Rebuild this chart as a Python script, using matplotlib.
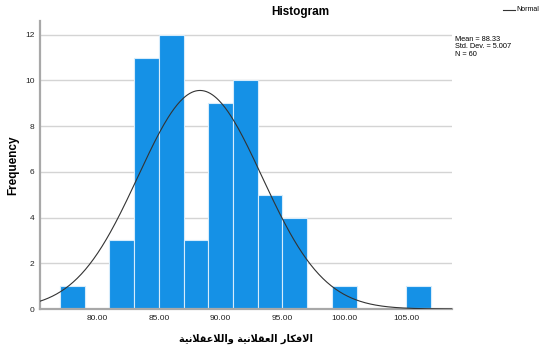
import numpy as np
import matplotlib
matplotlib.use('Agg')
import matplotlib.pyplot as plt

# histogram counts, 2-point bins
bin_edges = [77, 79, 81, 83, 85, 87, 89, 91, 93, 95, 97, 99, 101, 103, 105, 107]
counts = [1, 0, 3, 11, 12, 3, 9, 10, 5, 4, 0, 1, 0, 0, 1]
mean = 88.33
std = 5.007
n = 60

x_ticks = [80, 85, 90, 95, 100, 105]
y_ticks = [0, 2, 4, 6, 8, 10, 12]
x_label = 'الافكار العقلانية واللاعقلانية'

FAMILY = ['Liberation Sans', 'DejaVu Sans']
BAR = '#1591e6'

# contextual forms: isolated, final, initial, medial (None = does not join forward)
FORMS = {
    'ا': ('\uFE8D', '\uFE8E', None, None),
    'ل': ('\uFEDD', '\uFEDE', '\uFEDF', '\uFEE0'),
    'ف': ('\uFED1', '\uFED2', '\uFED3', '\uFED4'),
    'ك': ('\uFED9', '\uFEDA', '\uFEDB', '\uFEDC'),
    'ر': ('\uFEAD', '\uFEAE', None, None),
    'ع': ('\uFEC9', '\uFECA', '\uFECB', '\uFECC'),
    'ق': ('\uFED5', '\uFED6', '\uFED7', '\uFED8'),
    'ن': ('\uFEE5', '\uFEE6', '\uFEE7', '\uFEE8'),
    'ي': ('\uFEF1', '\uFEF2', '\uFEF3', '\uFEF4'),
    'ة': ('\uFE93', '\uFE94', None, None),
    'و': ('\uFEED', '\uFEEE', None, None),
    'لا': ('\uFEFB', '\uFEFC', None, None),
}


def shape_arabic(text):
    # matplotlib has no text shaping, so pick presentation forms by hand
    out_words = []
    for word in text.split(' '):
        letters = []
        i = 0
        while i < len(word):
            if word[i] == 'ل' and i + 1 < len(word) and word[i + 1] == 'ا':
                letters.append('لا')
                i += 2
            else:
                letters.append(word[i])
                i += 1
        shaped = []
        for k, ch in enumerate(letters):
            f = FORMS[ch]
            prev_joins = k > 0 and FORMS[letters[k - 1]][2] is not None
            next_joins = f[2] is not None and k + 1 < len(letters)
            if prev_joins and next_joins:
                shaped.append(f[3])
            elif prev_joins:
                shaped.append(f[1])
            elif next_joins:
                shaped.append(f[2])
            else:
                shaped.append(f[0])
        out_words.append(''.join(shaped))
    return ' '.join(out_words)[::-1]


def normal_curve(x):
    width = bin_edges[1] - bin_edges[0]
    return n * width * np.exp(-0.5 * ((x - mean) / std) ** 2) / (std * np.sqrt(2 * np.pi))


fig = plt.figure(figsize=(5.41, 3.49), dpi=100)
ax = fig.add_axes([40 / 541, 40 / 349, 412 / 541, 288 / 349])

ax.set_xlim(75.4, 108.7)
ax.set_ylim(0, 12.6)
ax.set_yticks(y_ticks)
ax.set_xticks(x_ticks)
ax.set_xticklabels(['%.2f' % t for t in x_ticks], family=FAMILY, fontsize=6)
ax.set_yticklabels([str(t) for t in y_ticks], family=FAMILY, fontsize=6)
ax.tick_params(length=0, pad=4, colors='#222222')

ax.grid(axis='y', color='#d4d4d4', lw=1.0)
ax.set_axisbelow(True)

lefts = bin_edges[:-1]
widths = np.diff(bin_edges)
ax.bar(lefts, counts, width=widths, align='edge', color=BAR,
       edgecolor='#d6ecfb', linewidth=0.8, zorder=2)

xs = np.linspace(75.4, 108.7, 400)
ax.plot(xs, normal_curve(xs), color='#333333', lw=0.8, zorder=3)

for side in ('top', 'right'):
    ax.spines[side].set_visible(False)
for side in ('left', 'bottom'):
    ax.spines[side].set_color('#a8a8a8')
    ax.spines[side].set_linewidth(1.6)

ax.set_ylabel('Frequency', family=FAMILY, fontsize=8.5, fontweight='bold', labelpad=4)
ax.set_xlabel(shape_arabic(x_label), family=['DejaVu Sans'], fontsize=7,
              fontweight='bold', labelpad=9)

fig.text(300 / 541, 1 - 12 / 349, 'Histogram', family=FAMILY, fontsize=8.5,
         fontweight='bold', ha='center', va='center')

stats = 'Mean = %.2f\nStd. Dev. = %.3f\nN = %d' % (mean, std, n)
fig.text(455 / 541, 1 - 36 / 349, stats, family=FAMILY, fontsize=5.3,
         ha='left', va='top', linespacing=1.05)

# legend entry for the normal curve
fig.add_artist(plt.Line2D([503 / 541, 515 / 541], [1 - 9.5 / 349, 1 - 9.5 / 349],
                          color='#333333', lw=0.8))
fig.text(516 / 541, 1 - 9.5 / 349, 'Normal', family=FAMILY, fontsize=5,
         ha='left', va='center')

fig.savefig('out.png', dpi=100)
